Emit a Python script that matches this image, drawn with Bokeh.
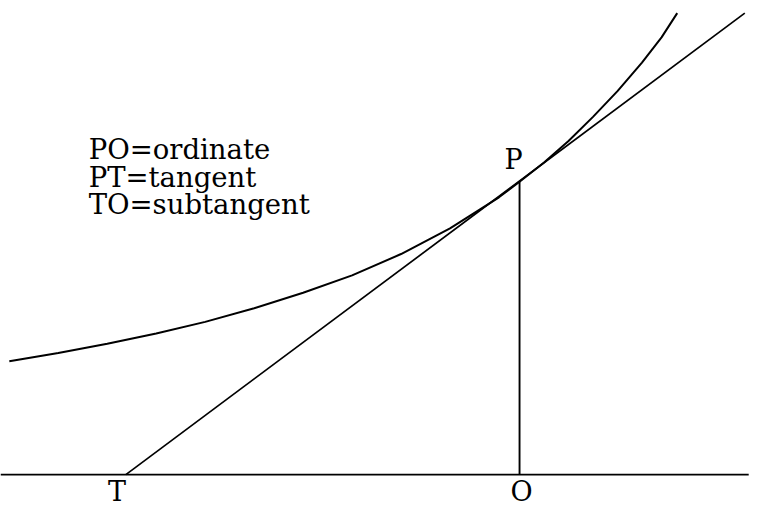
from bokeh.plotting import figure
from bokeh.models import Range1d, ColumnDataSource
from bokeh.core.properties import value
from bokeh.embed import file_html
from bokeh.resources import INLINE

# Curve, math units (1 unit = 100 px of the reference), O at origin
curve_x = [-5.21, -4.71, -4.21, -3.71, -3.21, -2.71, -2.21, -1.71, -1.21, -0.71, -0.21,
           0.00, 0.25, 0.50, 0.75, 1.00, 1.25, 1.45, 1.61]
curve_y = [1.17, 1.255, 1.35, 1.455, 1.575, 1.715, 1.875, 2.055, 2.275, 2.54, 2.86,
           3.02, 3.22, 3.44, 3.69, 3.955, 4.25, 4.51, 4.76]

# Tangent from T through P
tangent_x = [-4.02, 2.30]
tangent_y = [0.00, 4.76]

# Ordinate PO
ordinate_x = [0.0, 0.0]
ordinate_y = [0.0, 3.02]

# Horizontal axis
axis_x = [-5.30, 2.34]
axis_y = [0.0, 0.0]

# Point labels
point_labels = ["P", "T", "O"]
point_x = [-0.06, -4.11, 0.02]
point_y = [3.25, -0.175, -0.175]

# Note text lines
note_lines = ["PO=ordinate", "PT=tangent", "TO=subtangent"]
note_x = [-4.40, -4.40, -4.40]
note_y = [3.36, 3.07, 2.79]

p = figure(width=758, height=509, output_backend="svg", toolbar_location=None,
           x_range=Range1d(-5.30, 2.44), y_range=Range1d(-0.36, 4.89),
           min_border=0, background_fill_color="white", border_fill_color="white")
p.axis.visible = False
p.grid.visible = False
p.outline_line_color = None

p.line(axis_x, axis_y, line_color="black", line_width=1.9)
p.line(ordinate_x, ordinate_y, line_color="black", line_width=1.9)
p.line(tangent_x, tangent_y, line_color="black", line_width=1.7)
p.line(curve_x, curve_y, line_color="black", line_width=2.0)

src_pts = ColumnDataSource(dict(x=point_x, y=point_y, t=point_labels))
p.text(x="x", y="y", text="t", source=src_pts, text_align="center", text_baseline="middle",
       text_font=value("DejaVu Serif"), text_font_size=value("27px"), text_color="black")

src_note = ColumnDataSource(dict(x=note_x, y=note_y, t=note_lines))
p.text(x="x", y="y", text="t", source=src_note, text_align="left", text_baseline="alphabetic",
       text_font=value("DejaVu Serif"), text_font_size=value("27.5px"), text_color="black")

open("out.html", "w").write(file_html(p, INLINE))
